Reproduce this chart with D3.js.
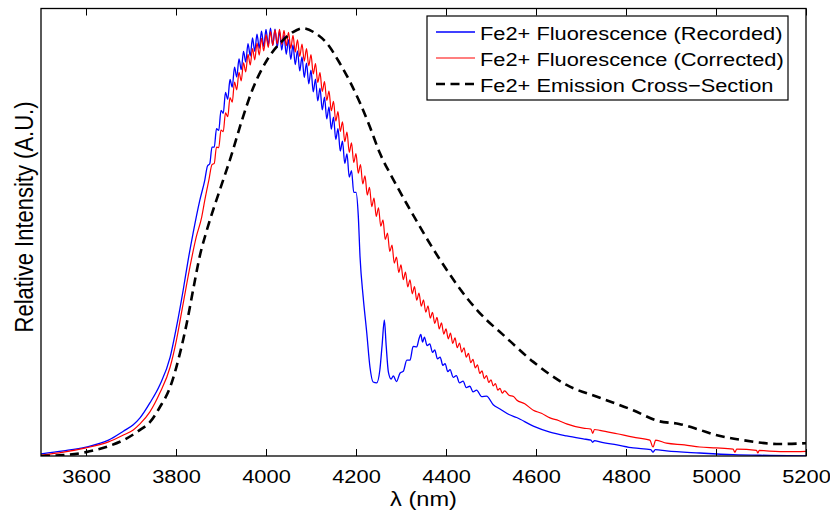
<!DOCTYPE html>
<html>
<head>
<meta charset="utf-8">
<script src="https://cdn.jsdelivr.net/npm/d3@7"></script>
<style>
  body { margin: 0; background: #fff; }
  svg { display: block; }
  text { font-family: "Liberation Sans", Arial, Helvetica, sans-serif; fill: #000; }
</style>
</head>
<body>
<svg id="chart" width="830" height="512"></svg>
<script>
// relative intensity in % of peak
const recorded = [
  [3500,0.5],[3550,1.2],[3600,2.1],[3650,3.7],[3683,5.8],[3705,7.3],[3720,8.9],[3742,12.4],[3764,16.6],
  [3787,23.1],[3801,30.1],[3816,38.8],[3827,45.8],[3838,52.1],[3853,59.8],[3864,64.5],
  [3870,67.8],[3875,68.3],[3880,72.2],[3885,72.2],[3890,76.5],[3895,76.1],[3900,80.8],[3905,80.1],
  [3910,85.0],[3915,83.4],[3920,88.0],[3925,86.2],[3930,90.9],[3935,88.6],[3940,92.8],[3945,90.3],
  [3950,94.6],[3955,92.1],[3960,96.4],[3965,93.5],[3970,97.7],[3975,94.6],[3980,98.6],[3985,95.3],
  [3990,99.3],[3995,95.7],[4000,99.7],[4005,96.0],[4010,100.0],[4015,96.0],[4020,99.8],[4025,95.6],
  [4030,99.3],[4035,94.9],[4040,98.4],[4045,93.9],[4050,97.3],[4055,92.7],[4060,96.1],[4065,91.5],
  [4070,94.7],[4075,90.0],[4080,93.3],[4085,88.5],[4090,91.8],[4095,87.0],[4100,90.2],[4105,85.1],
  [4110,88.1],[4115,83.0],[4120,86.0],[4125,80.9],[4130,83.9],[4135,78.8],[4140,81.6],[4145,76.4],
  [4150,79.2],[4155,74.0],[4160,76.5],[4165,71.3],[4170,73.6],[4175,68.4],[4180,70.6],[4185,65.2],
  [4190,66.7],[4195,61.6],[4200,61.6],[4205,56.3],
  [4209,46.5],[4216,37.1],[4224,28.7],[4231,20.8],[4238,17.3],[4246,17.1],[4253,20.1],[4258,25.9],
  [4263,31.8],[4267,25.9],[4272,19.6],[4278,18.0],[4283,18.7],[4290,17.4],[4298,19.4],[4305,19.8],
  [4313,22.4],[4320,22.4],[4327,25.6],[4335,25.5],[4340,27.4],[4344,28.4],[4348,26.6],[4352,27.8],
  [4358,25.8],[4364,26.2],[4370,24.2],[4375,24.8],[4381,22.7],[4387,23.1],[4393,21.2],[4398,21.6],
  [4404,19.7],[4409,20.2],[4416,18.4],[4423,18.8],[4430,17.1],[4438,17.5],[4445,16.0],[4453,16.3],
  [4460,15.0],[4468,15.4],[4479,13.9],[4490,14.0],[4505,12.0],[4520,11.0],[4540,9.7],[4557,9.0],
  [4594,7.0],[4631,5.6],[4668,4.7],[4705,4.0],[4722,3.7],[4726,3.2],[4730,3.6],[4742,3.3],
  [4780,2.6],[4816,1.9],[4855,1.5],[4860,0.9],[4865,1.5],[4890,1.2],[4964,0.7],[5038,0.3],
  [5120,0.15],[5200,0.05]
];

const corrected = [
  [3500,0.2],[3550,0.9],[3600,1.9],[3650,3.3],[3683,4.9],[3705,6.1],[3720,7.5],[3742,10.3],[3764,14.7],
  [3787,20.8],[3801,27.1],[3816,35.7],[3831,44.2],[3845,51.2],[3857,55.8],[3864,59.8],[3873,64.5],
  [3880,68.1],[3885,68.4],[3890,72.2],[3895,72.1],[3900,76.2],[3905,75.8],[3910,80.2],[3915,79.3],
  [3920,83.8],[3925,82.7],[3930,87.4],[3935,85.6],[3940,89.7],[3945,87.7],[3950,91.9],[3955,89.8],
  [3960,93.9],[3965,91.4],[3970,95.2],[3975,92.6],[3980,96.5],[3985,93.7],[3990,97.6],[3995,94.7],
  [4000,98.5],[4005,95.5],[4010,99.2],[4015,96.0],[4020,99.6],[4025,96.3],[4030,99.7],[4035,96.2],
  [4040,99.5],[4045,95.9],[4050,99.0],[4055,95.3],[4060,98.3],[4065,94.4],[4070,97.3],[4075,93.4],
  [4080,96.3],[4085,92.3],[4090,95.2],[4095,91.2],[4100,93.8],[4105,89.3],[4110,91.7],[4115,87.3],
  [4120,89.6],[4125,85.2],[4130,87.5],[4135,83.1],[4140,85.3],[4145,80.7],[4150,82.9],[4155,78.3],
  [4160,80.5],[4165,75.9],[4170,78.1],[4175,73.5],[4180,75.7],[4185,71.0],[4190,73.2],[4195,68.6],
  [4200,70.7],[4205,66.1],[4210,68.1],[4215,63.6],[4220,65.5],[4225,61.0],[4230,62.8],[4235,58.3],
  [4240,60.3],[4245,56.0],[4250,58.0],[4255,53.7],[4260,55.2],[4265,50.6],[4270,52.1],[4275,47.8],
  [4280,49.3],[4285,45.1],[4290,46.5],[4295,42.9],[4300,44.7],[4305,41.2],[4310,43.0],[4315,39.5],
  [4320,41.2],[4325,37.9],[4330,39.6],[4335,36.4],[4340,38.1],[4345,35.0],[4350,36.5],[4355,33.6],
  [4360,35.1],[4365,32.2],[4370,33.6],[4375,31.0],[4380,32.4],[4385,29.7],[4390,31.1],[4395,28.5],
  [4400,29.7],[4405,27.4],[4410,28.7],[4415,26.3],[4420,27.6],[4425,25.3],[4430,26.4],[4435,24.3],
  [4440,25.3],[4445,23.1],[4450,24.0],[4455,21.8],[4460,22.6],[4465,20.6],[4470,21.3],[4475,19.3],
  [4480,19.9],[4485,18.1],[4490,18.8],[4495,17.2],[4500,17.8],[4505,16.4],[4510,16.9],[4515,15.4],
  [4520,15.8],[4525,14.7],[4530,15.2],[4540,14.2],[4550,13.9],[4557,13.1],[4575,12.2],[4594,10.7],
  [4612,10.0],[4631,8.9],[4650,8.3],[4668,7.5],[4705,6.5],[4722,6.3],[4726,5.3],[4730,6.2],
  [4742,6.0],[4780,5.2],[4816,4.4],[4853,3.7],[4860,2.1],[4866,3.7],[4890,3.0],[4930,2.6],
  [4964,2.1],[5000,1.9],[5038,1.6],[5042,0.9],[5046,1.6],[5090,1.3],[5093,0.7],[5096,1.3],
  [5112,1.2],[5160,1.0],[5200,1.1]
];

const crossSection = [
  [3500,0.0],[3550,0.2],[3600,0.9],[3650,2.3],[3683,3.7],[3720,6.1],[3742,7.9],[3764,11.4],
  [3787,16.1],[3809,24.1],[3824,31.1],[3838,38.8],[3853,46.8],[3868,52.6],[3885,58.3],[3901,63.3],
  [3924,70.6],[3946,78.3],[3972,86.2],[4002,92.5],[4038,97.2],[4060,99.1],[4082,100.0],[4110,98.8],
  [4135,96.5],[4164,91.8],[4187,87.4],[4209,82.5],[4231,76.9],[4253,70.8],[4282,64.8],[4313,58.9],
  [4331,55.6],[4372,48.3],[4401,43.6],[4446,37.0],[4490,31.8],[4520,29.0],[4594,22.0],[4668,16.6],
  [4742,13.6],[4816,10.7],[4871,8.2],[4918,7.5],[4964,6.1],[5000,4.9],[5060,3.7],[5142,2.8],[5200,3.0]
];

const seriesNames = [
  "Fe2+ Fluorescence (Recorded)",
  "Fe2+ Fluorescence (Corrected)",
  "Fe2+ Emission Cross\u2212Section"
];
const xTicks = [3600, 3800, 4000, 4200, 4400, 4600, 4800, 5000, 5200];

const svg = d3.select("#chart");
const margin = {top: 8.5, right: 24, bottom: 56, left: 41};
const W = 830, H = 512;
const x = d3.scaleLinear().domain([3500, 5200]).range([margin.left, W - margin.right]);
const y = d3.scaleLinear().domain([0, 104.6]).range([H - margin.bottom, margin.top]);

const stretch = 1.18; // the original figure is a bit wider than tall

svg.append("clipPath").attr("id", "clip")
  .append("rect")
  .attr("x", margin.left).attr("y", margin.top)
  .attr("width", x.range()[1] - margin.left)
  .attr("height", y.range()[0] - margin.top);

const line = d3.line().x(d => x(d[0])).y(d => y(d[1])).curve(d3.curveMonotoneX);

const series = [
  {data: recorded, color: "#0000ff", width: 1.3, dash: null},
  {data: corrected, color: "#ff0000", width: 1.2, dash: null},
  {data: crossSection, color: "#000000", width: 2.6, dash: "9,5.5"}
];

const plot = svg.append("g").attr("clip-path", "url(#clip)");
series.forEach(s => {
  plot.append("path")
    .attr("d", line(s.data))
    .attr("fill", "none")
    .attr("stroke", s.color)
    .attr("stroke-width", s.width)
    .attr("stroke-linejoin", "round")
    .attr("stroke-dasharray", s.dash);
});

// axes, MATLAB style: ticks inside, box around
const xb = svg.append("g")
  .attr("transform", `translate(0,${y(0)})`)
  .call(d3.axisBottom(x).tickValues(xTicks).tickSize(-7).tickSizeOuter(0).tickFormat(d3.format("d")));
xb.select(".domain").remove();
xb.selectAll(".tick line").attr("stroke", "#000");
xb.selectAll(".tick text")
  .attr("y", 27).attr("dy", 0)
  .attr("font-size", 18.5)
  .attr("transform", `scale(${stretch},1)`);

const xt = svg.append("g")
  .attr("transform", `translate(0,${margin.top})`)
  .call(d3.axisTop(x).tickValues(xTicks).tickSize(-7).tickSizeOuter(0).tickFormat(""));
xt.select(".domain").remove();
xt.selectAll(".tick line").attr("stroke", "#000");

svg.append("rect")
  .attr("x", margin.left).attr("y", margin.top)
  .attr("width", x.range()[1] - margin.left)
  .attr("height", y.range()[0] - margin.top)
  .attr("fill", "none").attr("stroke", "#000").attr("stroke-width", 1.3);

// axis labels
svg.append("text")
  .attr("transform", `translate(${(margin.left + x.range()[1]) / 2},506) scale(${stretch},1)`)
  .attr("text-anchor", "middle")
  .attr("font-size", 20)
  .text("\u03bb (nm)");

svg.append("text")
  .attr("transform", `translate(32.5,217) scale(${stretch},1) rotate(-90)`)
  .attr("text-anchor", "middle")
  .attr("font-size", 22)
  .text("Relative Intensity (A.U.)");

// legend
const lg = svg.append("g");
lg.append("rect")
  .attr("x", 427).attr("y", 16).attr("width", 361).attr("height", 84)
  .attr("fill", "#fff").attr("stroke", "#000").attr("stroke-width", 1.2);
seriesNames.forEach((name, i) => {
  const ry = 32 + i * 26;
  lg.append("line")
    .attr("x1", 436).attr("x2", 475).attr("y1", ry).attr("y2", ry)
    .attr("stroke", series[i].color)
    .attr("stroke-width", series[i].width)
    .attr("stroke-dasharray", series[i].dash);
  lg.append("text")
    .attr("transform", `translate(480,${ry + 8}) scale(${stretch},1)`)
    .attr("font-size", 18.5)
    .text(name);
});
</script>
</body>
</html>
